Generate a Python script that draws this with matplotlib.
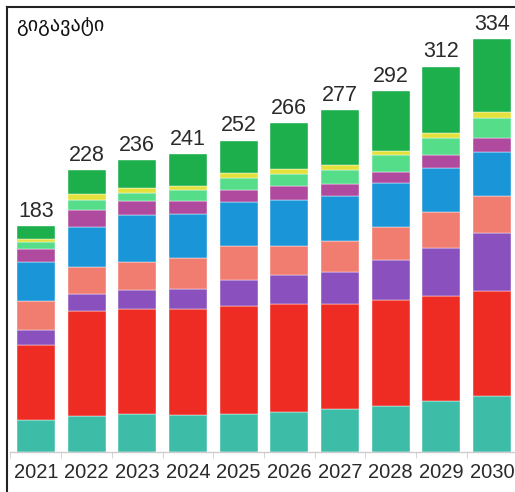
import matplotlib
matplotlib.use('Agg')
import matplotlib.pyplot as plt
import numpy as np
from matplotlib.lines import Line2D

years = ['2021', '2022', '2023', '2024', '2025', '2026', '2027', '2028', '2029', '2030']
totals = [183, 228, 236, 241, 252, 266, 277, 292, 312, 334]

# stacked segments, bottom to top (GW)
teal    = [26, 29, 31, 30, 31, 32, 35, 37, 41, 45]
red     = [61, 85, 85, 86, 87, 88, 85, 86, 85, 85]
purple  = [12, 14, 15, 16, 21, 23, 26, 32, 39, 47]
salmon  = [23, 22, 23, 25, 28, 24, 25, 27, 29, 30]
blue    = [32, 32, 38, 36, 35, 37, 36, 36, 36, 36]
magenta = [10, 14, 11, 10, 10, 11, 10,  9, 10, 11]
ltgreen = [ 6,  8,  7,  9, 10, 10, 11, 13, 14, 16]
yellow  = [ 2,  5,  4,  3,  4,  4,  4,  4,  4,  5]
green   = [11, 19, 22, 26, 26, 37, 45, 48, 54, 59]

unit = 'გიგავატი'

layers = [teal, red, purple, salmon, blue, magenta, ltgreen, yellow, green]
cols = ['#3dbda8', '#ee2c23', '#8a50bd', '#f07d70', '#1a95d8',
        '#b04a9f', '#55dd8a', '#e4e03c', '#1daf4b']

fig = plt.figure(figsize=(5.15, 4.92), dpi=100)
W, H = 515., 492.
ax = fig.add_axes([10.5/W, 40/H, 506.7/W, 445/H])

x = np.arange(len(years))
bottom = np.zeros(len(years))
for vals, c in zip(layers, cols):
    ax.bar(x, vals, bottom=bottom, width=0.75, color=c,
           edgecolor='white', linewidth=0.3)
    bottom += np.array(vals)

for xi, t in zip(x, totals):
    ax.annotate(str(t), (xi, t), xytext=(0, 3), textcoords='offset points',
                ha='center', va='bottom', fontsize=15.5, color='#2a2a2a',
                family=['Liberation Sans', 'DejaVu Sans'])

ax.set_xlim(-0.5, 9.5)
ax.set_ylim(0, 445/1.2355)

for s in ['top', 'right', 'left']:
    ax.spines[s].set_visible(False)
ax.spines['bottom'].set_color('#cccccc')
ax.spines['bottom'].set_linewidth(1)

ax.set_yticks([])
ax.set_xticks(x)
ax.set_xticklabels(years, fontsize=14.5, color='#2a2a2a',
                   family=['Liberation Sans', 'DejaVu Sans'])
ax.tick_params(axis='x', which='major', length=0, pad=8)
ax.set_xticks(np.arange(-0.5, 10, 1), minor=True)
ax.tick_params(axis='x', which='minor', length=4, color='#cccccc')

fig.text(16/W, 1 - 26/H, unit, fontsize=14.5, color='#111111', va='center',
         family=['DejaVu Sans'])

# frame lines left and top
fig.add_artist(Line2D([7/W, 7/W], [0, 1 - 7/H], transform=fig.transFigure,
                      color='#222222', linewidth=1.5))
fig.add_artist(Line2D([7/W, 1], [1 - 7/H, 1 - 7/H], transform=fig.transFigure,
                      color='#222222', linewidth=1.5))

plt.savefig('out.png', dpi=100)
